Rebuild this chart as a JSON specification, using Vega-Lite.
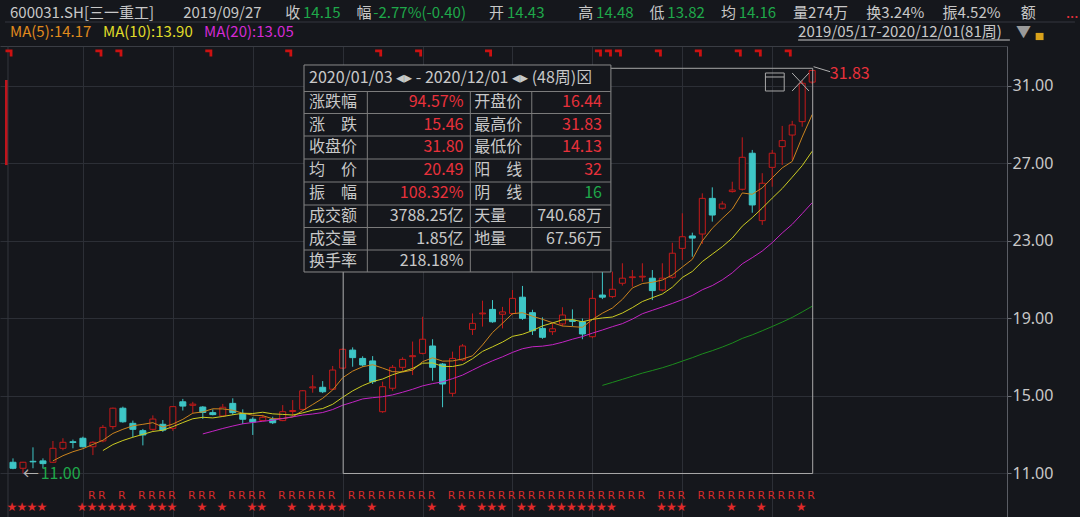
{
"$schema": "https://vega.github.io/schema/vega-lite/v6.json",
"width": 1007, "height": 471,
"autosize": {"type": "none"},
"padding": {"left": 0, "top": 46, "right": 73, "bottom": 0},
"background": "#15171c",
"config": {"view": {"stroke": null}, "text": {"font": "Noto Sans CJK SC"}},
"datasets": {
"candles": [
{"i":0,"o":11.58,"h":11.78,"l":11.22,"c":11.27},{"i":1,"o":11.27,"h":11.60,"l":11.00,"c":11.58},{"i":2,"o":11.63,"h":12.35,"l":11.27,"c":11.60},{"i":3,"o":11.65,"h":11.78,"l":11.27,"c":11.51},{"i":4,"o":11.58,"h":12.68,"l":11.55,"c":12.30},
{"i":5,"o":12.30,"h":12.82,"l":12.20,"c":12.61},{"i":6,"o":12.64,"h":12.75,"l":12.30,"c":12.60},{"i":7,"o":12.82,"h":12.90,"l":12.35,"c":12.38},{"i":8,"o":12.38,"h":12.66,"l":11.95,"c":12.61},{"i":9,"o":12.68,"h":13.50,"l":12.61,"c":13.38},
{"i":10,"o":13.42,"h":14.40,"l":13.28,"c":14.37},{"i":11,"o":14.37,"h":14.45,"l":13.62,"c":13.67},{"i":12,"o":13.59,"h":13.73,"l":12.87,"c":13.28},{"i":13,"o":13.21,"h":13.30,"l":12.45,"c":12.99},{"i":14,"o":13.28,"h":14.00,"l":13.20,"c":13.81},
{"i":15,"o":13.54,"h":13.76,"l":13.15,"c":13.24},{"i":16,"o":13.33,"h":14.45,"l":13.20,"c":14.45},{"i":17,"o":14.70,"h":14.85,"l":14.25,"c":14.48},{"i":18,"o":14.52,"h":14.70,"l":14.11,"c":14.58},{"i":19,"o":14.43,"h":14.48,"l":13.82,"c":14.15},
{"i":20,"o":14.14,"h":14.31,"l":14.00,"c":14.04},{"i":21,"o":13.97,"h":14.59,"l":13.93,"c":14.42},{"i":22,"o":14.62,"h":14.88,"l":14.02,"c":14.14},{"i":23,"o":14.07,"h":14.31,"l":13.55,"c":13.80},{"i":24,"o":13.80,"h":13.90,"l":12.99,"c":13.66},
{"i":25,"o":13.73,"h":14.03,"l":13.70,"c":13.90},{"i":26,"o":13.80,"h":13.93,"l":13.55,"c":13.62},{"i":27,"o":13.73,"h":14.53,"l":13.70,"c":14.19},{"i":28,"o":14.20,"h":14.79,"l":13.97,"c":14.25},{"i":29,"o":14.31,"h":15.30,"l":14.25,"c":15.27},
{"i":30,"o":15.42,"h":16.08,"l":15.17,"c":15.47},{"i":31,"o":15.45,"h":15.77,"l":15.15,"c":15.22},{"i":32,"o":15.35,"h":16.55,"l":15.30,"c":16.34},{"i":33,"o":16.44,"h":17.45,"l":16.40,"c":17.41},{"i":34,"o":17.37,"h":17.51,"l":16.51,"c":16.98},
{"i":35,"o":16.94,"h":17.05,"l":16.51,"c":16.60},{"i":36,"o":16.81,"h":17.06,"l":15.62,"c":15.74},{"i":37,"o":14.19,"h":15.74,"l":14.13,"c":15.48},{"i":38,"o":15.40,"h":16.60,"l":15.27,"c":16.48},{"i":39,"o":16.48,"h":17.00,"l":16.30,"c":16.89},
{"i":40,"o":17.03,"h":17.81,"l":16.08,"c":17.08},{"i":41,"o":17.20,"h":19.09,"l":17.15,"c":17.93},{"i":42,"o":17.58,"h":17.93,"l":15.79,"c":16.48},{"i":43,"o":16.65,"h":16.70,"l":14.42,"c":15.62},{"i":44,"o":15.14,"h":17.29,"l":14.96,"c":16.94},
{"i":45,"o":16.86,"h":17.68,"l":16.80,"c":17.58},{"i":46,"o":18.44,"h":19.26,"l":18.15,"c":18.75},{"i":47,"o":19.24,"h":19.92,"l":18.58,"c":19.28},{"i":48,"o":19.47,"h":19.95,"l":18.78,"c":18.83},{"i":49,"o":19.22,"h":19.60,"l":18.49,"c":19.34},
{"i":50,"o":19.26,"h":20.47,"l":19.20,"c":20.04},{"i":51,"o":20.10,"h":20.68,"l":18.93,"c":19.01},{"i":52,"o":19.30,"h":19.45,"l":18.15,"c":18.37},{"i":53,"o":18.49,"h":19.06,"l":17.95,"c":18.03},{"i":54,"o":18.32,"h":18.75,"l":18.15,"c":18.47},
{"i":55,"o":18.72,"h":19.58,"l":18.60,"c":19.18},{"i":56,"o":18.92,"h":19.47,"l":18.60,"c":18.85},{"i":57,"o":18.83,"h":19.00,"l":17.93,"c":18.20},{"i":58,"o":18.06,"h":20.47,"l":17.98,"c":20.04},{"i":59,"o":20.21,"h":21.42,"l":20.00,"c":20.10},
{"i":60,"o":20.13,"h":21.42,"l":20.05,"c":20.51},{"i":61,"o":20.82,"h":21.85,"l":20.70,"c":21.08},{"i":62,"o":21.11,"h":21.50,"l":20.64,"c":21.15},{"i":63,"o":21.14,"h":21.85,"l":20.90,"c":21.18},{"i":64,"o":21.08,"h":21.50,"l":19.95,"c":20.44},
{"i":65,"o":20.47,"h":21.85,"l":20.40,"c":21.08},{"i":66,"o":21.13,"h":22.91,"l":21.05,"c":22.37},{"i":67,"o":22.62,"h":24.43,"l":22.02,"c":23.22},{"i":68,"o":23.26,"h":23.43,"l":22.19,"c":23.15},{"i":69,"o":23.36,"h":25.46,"l":22.85,"c":25.20},
{"i":70,"o":25.20,"h":25.77,"l":24.00,"c":24.34},{"i":71,"o":24.69,"h":25.05,"l":24.62,"c":24.91},{"i":72,"o":25.55,"h":26.06,"l":25.50,"c":25.63},{"i":73,"o":25.67,"h":28.35,"l":25.60,"c":27.32},{"i":74,"o":27.53,"h":27.70,"l":24.46,"c":24.86},
{"i":75,"o":24.05,"h":26.50,"l":23.83,"c":25.98},{"i":76,"o":26.80,"h":27.70,"l":25.80,"c":27.53},{"i":77,"o":27.87,"h":28.94,"l":26.92,"c":28.18},{"i":78,"o":28.47,"h":29.20,"l":27.18,"c":28.99},{"i":79,"o":29.16,"h":31.30,"l":28.90,"c":31.14},
{"i":80,"o":31.20,"h":31.83,"l":31.10,"c":31.80}
],
"seg": [
{"x":29.13,"x2":59.85,"y":30.716,"y2":30.716,"k":"tb"},
{"x":29.13,"x2":59.85,"y":29.581,"y2":29.581,"k":"tb"},
{"x":29.13,"x2":59.85,"y":28.419,"y2":28.419,"k":"tb"},
{"x":29.13,"x2":59.85,"y":27.232,"y2":27.232,"k":"tb"},
{"x":29.13,"x2":59.85,"y":26.045,"y2":26.045,"k":"tb"},
{"x":29.13,"x2":59.85,"y":24.858,"y2":24.858,"k":"tb"},
{"x":29.13,"x2":59.85,"y":23.697,"y2":23.697,"k":"tb"},
{"x":29.13,"x2":59.85,"y":22.535,"y2":22.535,"k":"tb"},
{"x":35.47,"x2":35.47,"y":30.716,"y2":21.4,"k":"tb"},
{"x":45.78,"x2":45.78,"y":30.716,"y2":21.4,"k":"tb"},
{"x":51.93,"x2":51.93,"y":30.716,"y2":21.4,"k":"tb"},
{"x":-0.8,"x2":106.3,"y":34.303,"y2":34.303,"k":"sep"},
{"x":-0.5,"x2":-0.5,"y":33.0645,"y2":8.7548,"k":"sep"},
{"x":78.59,"x2":99.79,"y":33.374,"y2":33.374,"k":"g"},
{"x":75.32,"x2":77.2,"y":31.465,"y2":31.465,"k":"ic"},
{"x":77.99,"x2":79.68,"y":31.671,"y2":30.742,"k":"ic"},
{"x":77.99,"x2":79.68,"y":30.742,"y2":31.671,"k":"ic"},
{"x":80.14,"x2":81.79,"y":31.996,"y2":31.738,"k":"ic"}
],
"boxes": [
{"x":33.05,"x2":80.05,"y":11.0,"y2":31.914},
{"x":75.32,"x2":77.2,"y":30.742,"y2":31.671}
],
"txt": [
{"x":-0.3,"y":34.79,"t":"600031.SH[三一重工]","k":"g"},
{"x":17.04,"y":34.79,"t":"2019/09/27","k":"g"},
{"x":27.25,"y":34.79,"t":"收","k":"g"},
{"x":29.03,"y":34.79,"t":"14.15","k":"gr"},
{"x":34.38,"y":34.79,"t":"幅","k":"g"},
{"x":36.07,"y":34.79,"t":"-2.77%(-0.40)","k":"gr"},
{"x":47.66,"y":34.79,"t":"开","k":"g"},
{"x":49.45,"y":34.79,"t":"14.43","k":"gr"},
{"x":56.58,"y":34.79,"t":"高","k":"g"},
{"x":58.37,"y":34.79,"t":"14.48","k":"gr"},
{"x":63.72,"y":34.79,"t":"低","k":"g"},
{"x":65.5,"y":34.79,"t":"13.82","k":"gr"},
{"x":70.86,"y":34.79,"t":"均","k":"g"},
{"x":72.64,"y":34.79,"t":"14.16","k":"gr"},
{"x":78.09,"y":34.79,"t":"量274万","k":"g"},
{"x":85.42,"y":34.79,"t":"换3.24%","k":"g"},
{"x":93.05,"y":34.79,"t":"振4.52%","k":"g"},
{"x":100.88,"y":34.79,"t":"额","k":"g"},
{"x":105.4,"y":34.79,"t":"...","k":"r"},
{"x":-0.3,"y":33.77,"t":"MA(5):14.17","k":"o"},
{"x":9.01,"y":33.77,"t":"MA(10):13.90","k":"y"},
{"x":19.12,"y":33.77,"t":"MA(20):13.05","k":"m"},
{"x":78.59,"y":33.77,"t":"2019/05/17-2020/12/01(81周)","k":"g"},
{"x":100.4,"y":33.77,"t":"▼","k":"dg"}
],
"tbl": [
{"x":29.63,"y":31.4,"t":"2020/01/03 ◂▸ - 2020/12/01 ◂▸ (48周)⊠","k":"g"},
{"x":29.63,"y":30.149,"t":"涨跌幅","k":"g"},
{"x":29.63,"y":29.0,"t":"涨　跌","k":"g"},
{"x":29.63,"y":27.826,"t":"收盘价","k":"g"},
{"x":29.63,"y":26.639,"t":"均　价","k":"g"},
{"x":29.63,"y":25.452,"t":"振　幅","k":"g"},
{"x":29.63,"y":24.278,"t":"成交额","k":"g"},
{"x":29.63,"y":23.116,"t":"成交量","k":"g"},
{"x":29.63,"y":21.968,"t":"换手率","k":"g"},
{"x":46.18,"y":30.149,"t":"开盘价","k":"g"},
{"x":46.18,"y":29.0,"t":"最高价","k":"g"},
{"x":46.18,"y":27.826,"t":"最低价","k":"g"},
{"x":46.18,"y":26.639,"t":"阳　线","k":"g"},
{"x":46.18,"y":25.452,"t":"阴　线","k":"g"},
{"x":46.18,"y":24.278,"t":"天量","k":"g"},
{"x":46.18,"y":23.116,"t":"地量","k":"g"},
{"x":81.76,"y":31.619,"t":"31.83","k":"r"},
{"x":0.98,"y":10.98,"t":"←","k":"ic"},
{"x":2.77,"y":10.98,"t":"11.00","k":"gr"}
],
"txtr": [
{"x":45.09,"y":30.149,"t":"94.57%","k":"r"},
{"x":45.09,"y":29.0,"t":"15.46","k":"r"},
{"x":45.09,"y":27.826,"t":"31.80","k":"r"},
{"x":45.09,"y":26.639,"t":"20.49","k":"r"},
{"x":45.09,"y":25.452,"t":"108.32%","k":"r"},
{"x":45.09,"y":24.278,"t":"3788.25亿","k":"g"},
{"x":45.09,"y":23.116,"t":"1.85亿","k":"g"},
{"x":45.09,"y":21.968,"t":"218.18%","k":"g"},
{"x":58.96,"y":30.149,"t":"16.44","k":"r"},
{"x":58.96,"y":29.0,"t":"31.83","k":"r"},
{"x":58.96,"y":27.826,"t":"14.13","k":"r"},
{"x":58.96,"y":26.639,"t":"32","k":"r"},
{"x":58.96,"y":25.452,"t":"16","k":"gr"},
{"x":58.96,"y":24.278,"t":"740.68万","k":"g"},
{"x":58.96,"y":23.116,"t":"67.56万","k":"g"}
],
"rmk": [{"i":8},{"i":9},{"i":11},{"i":13},{"i":14},{"i":15},{"i":16},{"i":18},{"i":19},{"i":20},{"i":22},{"i":23},{"i":24},{"i":25},{"i":27},{"i":28},{"i":29},{"i":30},{"i":31},{"i":32},{"i":34},{"i":35},{"i":36},{"i":37},{"i":38},{"i":39},{"i":40},{"i":41},{"i":42},{"i":44},{"i":45},{"i":46},{"i":47},{"i":48},{"i":49},{"i":50},{"i":51},{"i":52},{"i":53},{"i":54},{"i":55},{"i":56},{"i":57},{"i":58},{"i":59},{"i":60},{"i":61},{"i":62},{"i":63},{"i":65},{"i":66},{"i":67},{"i":69},{"i":70},{"i":71},{"i":72},{"i":73},{"i":74},{"i":75},{"i":76},{"i":77},{"i":78},{"i":79},{"i":80}],
"stars": [{"i":0},{"i":1},{"i":2},{"i":3},{"i":7},{"i":8},{"i":9},{"i":10},{"i":11},{"i":12},{"i":14},{"i":15},{"i":16},{"i":19},{"i":21},{"i":24},{"i":25},{"i":28},{"i":30},{"i":31},{"i":32},{"i":33},{"i":36},{"i":42},{"i":45},{"i":47},{"i":48},{"i":49},{"i":51},{"i":52},{"i":54},{"i":55},{"i":56},{"i":57},{"i":58},{"i":59},{"i":60},{"i":65},{"i":66},{"i":67},{"i":72},{"i":75},{"i":79}],
"flags": [{"i":0},{"i":9},{"i":11},{"i":20},{"i":28},{"i":37},{"i":41},{"i":48},{"i":59},{"i":60},{"i":61},{"i":65},{"i":69},{"i":73},{"i":75},{"i":78}]
},
"data": {"name": "candles"},
"layer": [
{
"mark": {"type": "rule", "strokeWidth": 1},
"encoding": {
"x": {"field": "i", "type": "quantitative", "title": null, "scale": {"domain": [-0.8, 99], "nice": false, "zero": false},
 "axis": {"orient": "top", "values": [7,16,24,33,41,50,58,67,76], "labels": false, "ticks": false, "domain": true, "domainColor": "#3a3d44", "grid": true, "gridColor": "#2c2f36", "title": null}},
"y": {"field": "l", "type": "quantitative", "title": null, "scale": {"domain": [8.7548, 33.0645], "nice": false, "zero": false},
 "axis": {"orient": "right", "values": [11,15,19,23,27,31], "format": ".2f", "labelColor": "#c8c8c8", "labelFontSize": 16, "labelFont": "Noto Sans", "tickColor": "#6a6d74", "tickSize": 4, "labelPadding": 1, "domainColor": "#5a5d64", "grid": true, "gridColor": "#2c2f36", "title": null}},
"y2": {"field": "h"},
"color": {"condition": {"test": "datum.c >= datum.o", "value": "#c41a1a"}, "value": "#3ec6c6"}
}
},
{
"mark": {"type": "bar", "size": 6, "strokeWidth": 1},
"encoding": {
"x": {"field": "i", "type": "quantitative", "title": null},
"y": {"field": "o", "type": "quantitative", "title": null},
"y2": {"field": "c"},
"fill": {"condition": {"test": "datum.c >= datum.o", "value": "#15171c"}, "value": "#3ec6c6"},
"stroke": {"condition": {"test": "datum.c >= datum.o", "value": "#c41a1a"}, "value": "#3ec6c6"}
}
},
{
"transform": [{"window": [{"op": "mean", "field": "c", "as": "ma"}, {"op": "count", "as": "n"}], "frame": [-4, 0], "sort": [{"field": "i"}]}, {"filter": "datum.n >= 5"}],
"mark": {"type": "line", "color": "#cc841e", "strokeWidth": 1},
"encoding": {"x": {"field": "i", "type": "quantitative", "title": null}, "y": {"field": "ma", "type": "quantitative", "title": null}}
},
{
"transform": [{"window": [{"op": "mean", "field": "c", "as": "ma"}, {"op": "count", "as": "n"}], "frame": [-9, 0], "sort": [{"field": "i"}]}, {"filter": "datum.n >= 10"}],
"mark": {"type": "line", "color": "#cccc22", "strokeWidth": 1},
"encoding": {"x": {"field": "i", "type": "quantitative", "title": null}, "y": {"field": "ma", "type": "quantitative", "title": null}}
},
{
"transform": [{"window": [{"op": "mean", "field": "c", "as": "ma"}, {"op": "count", "as": "n"}], "frame": [-19, 0], "sort": [{"field": "i"}]}, {"filter": "datum.n >= 20"}],
"mark": {"type": "line", "color": "#c424c4", "strokeWidth": 1},
"encoding": {"x": {"field": "i", "type": "quantitative", "title": null}, "y": {"field": "ma", "type": "quantitative", "title": null}}
},
{
"transform": [{"window": [{"op": "mean", "field": "c", "as": "ma"}, {"op": "count", "as": "n"}], "frame": [-59, 0], "sort": [{"field": "i"}]}, {"filter": "datum.n >= 60"}],
"mark": {"type": "line", "color": "#1c8c1c", "strokeWidth": 1},
"encoding": {"x": {"field": "i", "type": "quantitative", "title": null}, "y": {"field": "ma", "type": "quantitative", "title": null}}
},
{
"data": {"values": [{"x": -0.8, "x2": -0.5, "y": 26.92, "y2": 31.31, "k": "blk"}, {"x": 102.37, "x2": 103.16, "y": 33.37, "y2": 33.74, "k": "lock"}]},
"mark": {"type": "rect"},
"encoding": {"x": {"field": "x", "type": "quantitative", "title": null}, "x2": {"field": "x2"}, "y": {"field": "y", "type": "quantitative", "title": null}, "y2": {"field": "y2"},
 "color": {"field": "k", "type": "nominal", "legend": null, "scale": {"domain": ["blk", "lock"], "range": ["#c0141c", "#d9a21b"]}}}
},
{
"data": {"name": "boxes"},
"mark": {"type": "rect", "fillOpacity": 0, "stroke": "#a8a8a8", "strokeWidth": 1},
"encoding": {"x": {"field": "x", "type": "quantitative", "title": null}, "x2": {"field": "x2"}, "y": {"field": "y", "type": "quantitative", "title": null}, "y2": {"field": "y2"}}
},
{
"data": {"values": [{"x": 29.13, "x2": 59.85, "y": 21.4, "y2": 32.084}]},
"mark": {"type": "rect", "fill": "#15171c", "stroke": "#8a8a8a", "strokeWidth": 1},
"encoding": {"x": {"field": "x", "type": "quantitative", "title": null}, "x2": {"field": "x2"}, "y": {"field": "y", "type": "quantitative", "title": null}, "y2": {"field": "y2"}}
},
{
"data": {"name": "seg"},
"mark": {"type": "rule", "strokeWidth": 1},
"encoding": {"x": {"field": "x", "type": "quantitative", "title": null}, "x2": {"field": "x2"}, "y": {"field": "y", "type": "quantitative", "title": null}, "y2": {"field": "y2"},
 "stroke": {"field": "k", "type": "nominal", "legend": null, "scale": {"domain": ["g","gr","r","o","y","m","dg","sep","tb","ic"], "range": ["#c8c8c8","#1fa84a","#e8313b","#e08a1c","#e0dc28","#d42ad4","#9a9a9a","#34373e","#7c7c7c","#b0b0b0"]}}}
},
{
"data": {"name": "txt"},
"mark": {"type": "text", "align": "left", "baseline": "middle", "fontSize": 15},
"encoding": {"x": {"field": "x", "type": "quantitative", "title": null}, "y": {"field": "y", "type": "quantitative", "title": null}, "text": {"field": "t"},
 "fill": {"field": "k", "type": "nominal", "legend": null, "scale": {"domain": ["g","gr","r","o","y","m","dg","sep","tb","ic"], "range": ["#c8c8c8","#1fa84a","#e8313b","#e08a1c","#e0dc28","#d42ad4","#9a9a9a","#34373e","#7c7c7c","#b0b0b0"]}}}
},
{
"data": {"name": "tbl"},
"mark": {"type": "text", "align": "left", "baseline": "middle", "fontSize": 16},
"encoding": {"x": {"field": "x", "type": "quantitative", "title": null}, "y": {"field": "y", "type": "quantitative", "title": null}, "text": {"field": "t"},
 "fill": {"field": "k", "type": "nominal", "legend": null, "scale": {"domain": ["g","gr","r","o","y","m","dg","sep","tb","ic"], "range": ["#c8c8c8","#1fa84a","#e8313b","#e08a1c","#e0dc28","#d42ad4","#9a9a9a","#34373e","#7c7c7c","#b0b0b0"]}}}
},
{
"data": {"name": "txtr"},
"mark": {"type": "text", "align": "right", "baseline": "middle", "fontSize": 16},
"encoding": {"x": {"field": "x", "type": "quantitative", "title": null}, "y": {"field": "y", "type": "quantitative", "title": null}, "text": {"field": "t"},
 "fill": {"field": "k", "type": "nominal", "legend": null, "scale": {"domain": ["g","gr","r","o","y","m","dg","sep","tb","ic"], "range": ["#c8c8c8","#1fa84a","#e8313b","#e08a1c","#e0dc28","#d42ad4","#9a9a9a","#34373e","#7c7c7c","#b0b0b0"]}}}
},
{
"data": {"name": "rmk"},
"mark": {"type": "text", "text": "R", "align": "center", "baseline": "middle", "fontSize": 11, "font": "DejaVu Sans", "color": "#d42a2a", "dx": -1},
"encoding": {"x": {"field": "i", "type": "quantitative", "title": null}, "y": {"datum": 9.839}}
},
{
"data": {"name": "stars"},
"mark": {"type": "text", "text": "★", "align": "center", "baseline": "middle", "fontSize": 12, "font": "DejaVu Sans", "color": "#e02a2a", "dx": -1},
"encoding": {"x": {"field": "i", "type": "quantitative", "title": null}, "y": {"datum": 9.271}}
},
{
"data": {"name": "flags"},
"mark": {"type": "point", "shape": "M -1 -1 H 1 V 1 H 0.2 V -0.25 H -1 Z", "filled": true, "color": "#cc1111", "opacity": 1, "size": 49, "xOffset": -4},
"encoding": {"x": {"field": "i", "type": "quantitative", "title": null}, "y": {"datum": 32.7}}
}
]
}
